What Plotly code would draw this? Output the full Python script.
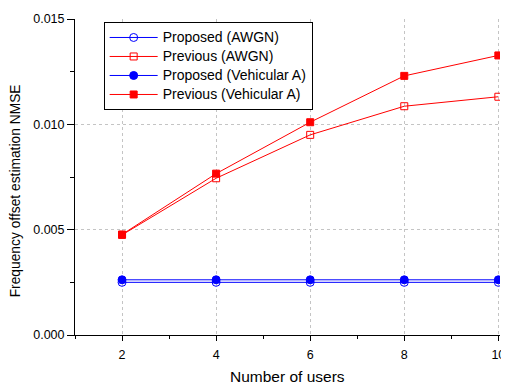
import plotly.graph_objects as go

users = [2, 4, 6, 8, 10]
proposed_awgn = [0.00250, 0.00250, 0.00250, 0.00250, 0.00250]
previous_awgn = [0.00475, 0.00744, 0.00950, 0.01086, 0.01131]
proposed_veh = [0.00262, 0.00262, 0.00262, 0.00262, 0.00262]
previous_veh = [0.00477, 0.00766, 0.01010, 0.01230, 0.01327]
legend_names = ["Proposed (AWGN)", "Previous (AWGN)", "Proposed (Vehicular A)", "Previous (Vehicular A)"]

BLUE = "#0000ff"
RED = "#ff0000"
FONT = "Liberation Sans, Arial, sans-serif"

fig = go.Figure()
series = [
    (legend_names[0], proposed_awgn, BLUE, "circle-open", 8),
    (legend_names[1], previous_awgn, RED, "square-open", 7),
    (legend_names[2], proposed_veh, BLUE, "circle", 8),
    (legend_names[3], previous_veh, RED, "square", 7),
]
for name, ys, col, sym, sz in series:
    fig.add_trace(go.Scatter(
        x=users, y=ys, name='<span style="font-size:14px">' + name + '</span>',
        mode="lines+markers",
        line=dict(color=col, width=1),
        marker=dict(symbol=sym, size=sz, color=col, line=dict(color=col, width=1)),
    ))

# The page body adds an 8px margin, so the figure is sized to fill the rest of the window.
PLOT_W = 505 - 75
fig.update_layout(
    width=501, height=377,
    margin=dict(l=67, r=4, t=8, b=50),
    paper_bgcolor="white", plot_bgcolor="white",
    font=dict(family=FONT, size=12, color="black"),
    showlegend=True,
    legend=dict(
        x=(104 - 75) / PLOT_W, y=(335 - 19) / 319, xanchor="left", yanchor="top",
        bgcolor="white", bordercolor="black", borderwidth=1,
        font=dict(size=12.3), tracegroupgap=0, itemwidth=48,
    ),
    xaxis=dict(
        range=[1, 10.035], tick0=2, dtick=2,
        showline=True, linecolor="black", linewidth=1,
        ticks="outside", ticklen=5, tickcolor="black",
        showgrid=True, gridcolor="#c4c4c4", griddash="3px,3px", gridwidth=1,
        zeroline=False, tickfont=dict(size=12.5), ticklabelstandoff=3,
        ticklabeloverflow="allow",
        minor=dict(dtick=1, tick0=1, ticks="outside", ticklen=3, tickcolor="black", showgrid=False),
    ),
    yaxis=dict(
        range=[0, 0.015], tick0=0, dtick=0.005, tickformat=".3f",
        showline=True, linecolor="black", linewidth=1,
        ticks="outside", ticklen=7, tickcolor="black",
        showgrid=True, gridcolor="#c4c4c4", griddash="3px,3px", gridwidth=1,
        zeroline=False, tickfont=dict(size=12.5),
        ticklabeloverflow="allow",
        minor=dict(dtick=0.0025, tick0=0, ticks="outside", ticklen=4, tickcolor="black", showgrid=False),
    ),
    annotations=[
        dict(text="Number of users", xref="paper", yref="paper", x=0.5, y=0,
             xanchor="center", yanchor="middle", yshift=-41, showarrow=False,
             font=dict(size=15.5, family=FONT)),
        dict(text="Frequency offset estimation NMSE", xref="paper", yref="paper",
             x=0, y=(335 - 190) / 319, xanchor="center", yanchor="middle", xshift=-60,
             textangle=-90, showarrow=False, font=dict(size=13.8, family=FONT)),
    ],
)

fig.write_html("out.html")
